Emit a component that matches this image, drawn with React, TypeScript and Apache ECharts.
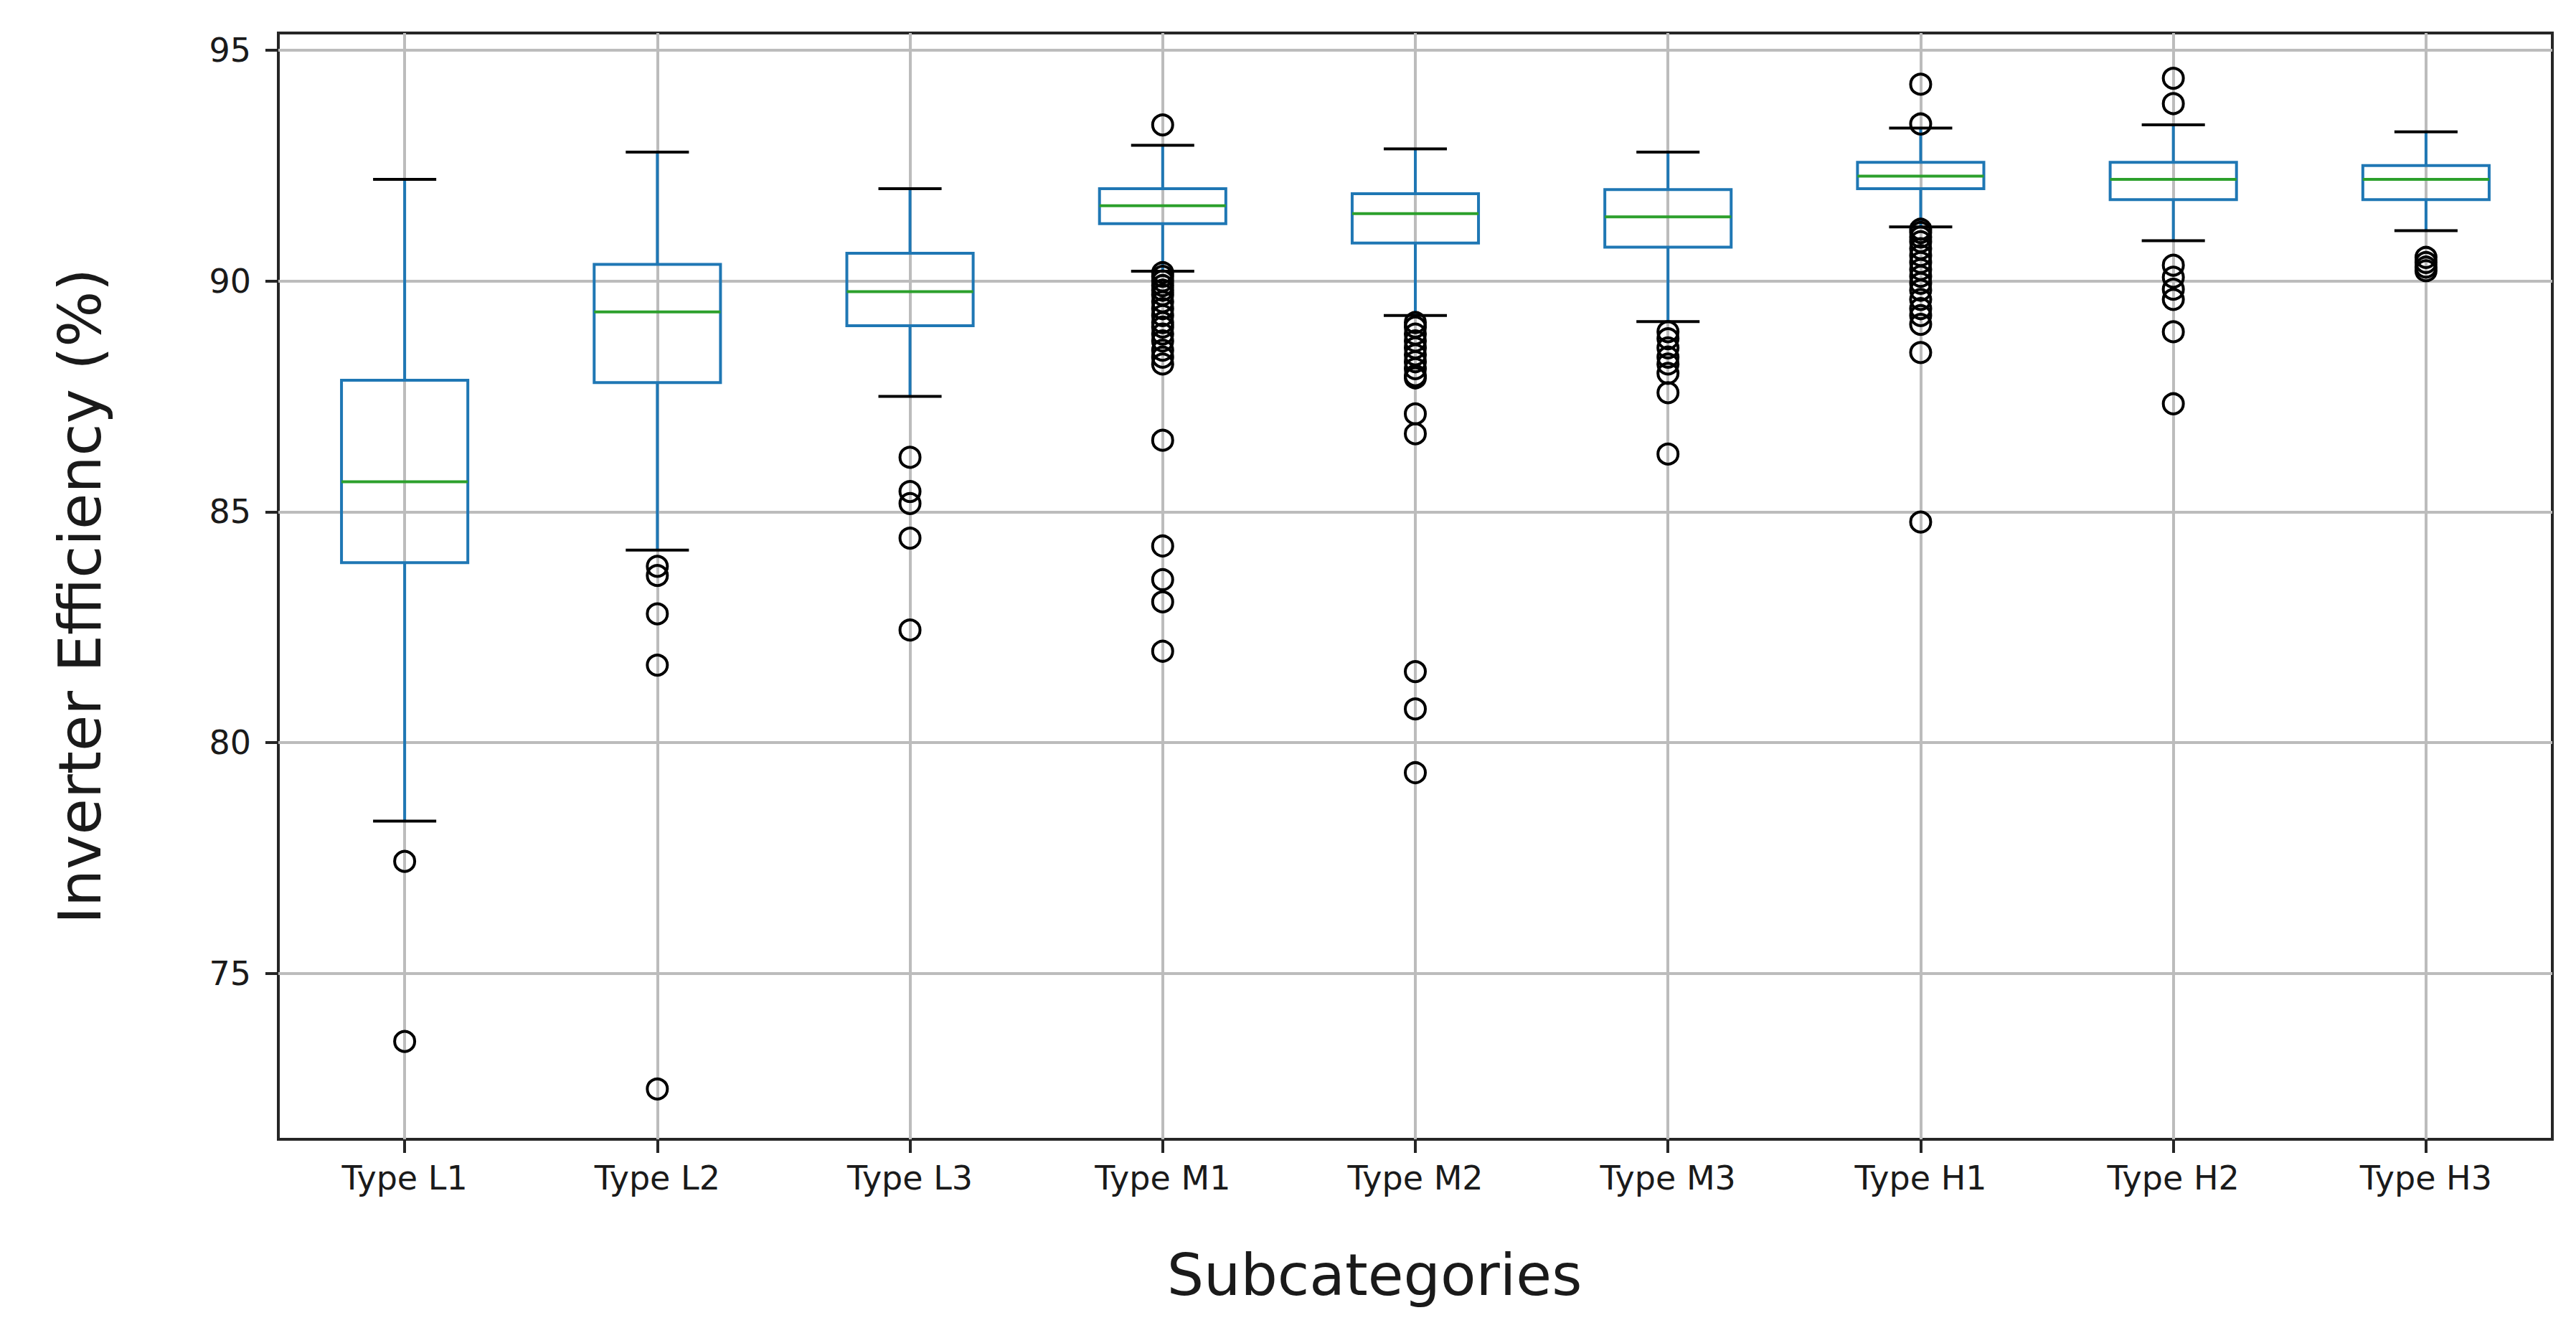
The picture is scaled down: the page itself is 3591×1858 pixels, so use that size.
import React, { useEffect, useRef } from 'react';
import * as echarts from 'echarts';

const categories = ['Type L1', 'Type L2', 'Type L3', 'Type M1', 'Type M2', 'Type M3', 'Type H1', 'Type H2', 'Type H3'];
const lowerWhisker = [78.3, 84.17, 87.5, 90.21, 89.25, 89.12, 91.17, 90.87, 91.09];
const q1 = [83.9, 87.8, 89.03, 91.24, 90.82, 90.73, 92.0, 91.76, 91.76];
const median = [85.65, 89.33, 89.77, 91.63, 91.46, 91.39, 92.27, 92.2, 92.2];
const q3 = [87.85, 90.36, 90.6, 92.0, 91.89, 91.98, 92.57, 92.57, 92.5];
const upperWhisker = [92.2, 92.79, 92.0, 92.94, 92.86, 92.79, 93.31, 93.38, 93.23];
const outliers = [
  [77.43, 73.53],
  [83.82, 83.62, 82.79, 81.68, 72.5],
  [86.18, 85.44, 85.18, 84.43, 82.44],
  [93.38, 90.18, 90.1, 90.0, 89.9, 89.8, 89.7, 89.55, 89.4, 89.25, 89.1, 89.0, 88.85, 88.7, 88.5, 88.35, 88.2, 86.55, 84.26, 83.53, 83.05, 81.98],
  [89.1, 89.0, 88.85, 88.7, 88.55, 88.4, 88.25, 88.1, 87.95, 87.9, 87.12, 86.69, 81.54, 80.73, 79.35],
  [88.9, 88.75, 88.55, 88.35, 88.2, 88.0, 87.58, 86.25],
  [94.26, 93.4, 91.12, 91.05, 90.95, 90.85, 90.7, 90.55, 90.4, 90.25, 90.1, 89.95, 89.8, 89.6, 89.4, 89.25, 89.06, 88.45, 84.78],
  [94.39, 93.84, 90.34, 90.08, 89.82, 89.6, 88.9, 87.34],
  [90.51, 90.4, 90.3, 90.22],
];
const yTicks = [75, 80, 85, 90, 95];
const yMin = 71.41;
const yMax = 95.37;

const BLUE = '#1f77b4';
const GREEN = '#2ca02c';
const DARK = '#262626';
const GRID = '#bcbcbc';
const TEXT = '#1a1a1a';

export default function App() {
  const ref = useRef<HTMLDivElement>(null);
  useEffect(() => {
    if (!ref.current) return;
    const chart = echarts.init(ref.current, undefined, { renderer: 'svg' });
    const boxData = categories.map((_, i) => [i, lowerWhisker[i], q1[i], median[i], q3[i], upperWhisker[i]]);
    const outlierData: number[][] = [];
    outliers.forEach((arr, i) => arr.forEach((v) => outlierData.push([i, v])));
    const option: any = {
      animation: false,
      backgroundColor: '#ffffff',
      textStyle: { fontFamily: 'DejaVu Sans' },
      grid: {
        left: 388, right: 33, top: 46, bottom: 270,
        show: true, borderColor: DARK, borderWidth: 4, backgroundColor: 'transparent',
      },
      xAxis: {
        type: 'category',
        data: categories,
        boundaryGap: true,
        name: 'Subcategories',
        nameLocation: 'middle',
        nameGap: 148,
        nameTextStyle: { fontSize: 81, color: TEXT, fontFamily: 'DejaVu Sans', padding: [0, 114, 0, 0] },
        axisLine: { show: false },
        axisTick: { show: true, alignWithLabel: true, length: 19, lineStyle: { color: DARK, width: 4 } },
        axisLabel: { fontSize: 46, color: TEXT, margin: 31, interval: 0, fontFamily: 'DejaVu Sans' },
        splitLine: { show: true, alignWithLabel: true, interval: 0, lineStyle: { color: GRID, width: 4 } },
      },
      yAxis: {
        type: 'value',
        min: yMin,
        max: yMax,
        name: 'Inverter Efficiency (%)',
        nameLocation: 'middle',
        nameGap: 236,
        nameTextStyle: { fontSize: 82, color: TEXT, fontFamily: 'DejaVu Sans', padding: [0, 28, 0, 0] },
        axisLine: { show: false },
        axisTick: { show: true, length: 18, customValues: yTicks, lineStyle: { color: DARK, width: 4 } },
        axisLabel: { customValues: yTicks, fontSize: 46, color: TEXT, margin: 38, fontFamily: 'DejaVu Sans' },
        splitLine: { show: true, lineStyle: { color: GRID, width: 4 } },
      },
      series: [
        {
          type: 'custom',
          name: 'box',
          data: boxData,
          encode: { x: 0, y: [1, 2, 3, 4, 5] },
          z: 2,
          renderItem: (params: any, api: any) => {
            const idx = api.value(0);
            const band = api.size([1, 0])[0];
            const half = band * 0.25;
            const capHalf = band * 0.125;
            const pLw = api.coord([idx, api.value(1)]);
            const pQ1 = api.coord([idx, api.value(2)]);
            const pMed = api.coord([idx, api.value(3)]);
            const pQ3 = api.coord([idx, api.value(4)]);
            const pUw = api.coord([idx, api.value(5)]);
            const x = pMed[0];
            const blue = { stroke: BLUE, lineWidth: 4, fill: null };
            return {
              type: 'group',
              children: [
                { type: 'line', shape: { x1: x, y1: pQ1[1], x2: x, y2: pLw[1] }, style: blue },
                { type: 'line', shape: { x1: x, y1: pQ3[1], x2: x, y2: pUw[1] }, style: blue },
                { type: 'line', shape: { x1: x - capHalf, y1: pLw[1], x2: x + capHalf, y2: pLw[1] }, style: { stroke: '#000', lineWidth: 4 } },
                { type: 'line', shape: { x1: x - capHalf, y1: pUw[1], x2: x + capHalf, y2: pUw[1] }, style: { stroke: '#000', lineWidth: 4 } },
                { type: 'rect', shape: { x: x - half, y: pQ3[1], width: half * 2, height: pQ1[1] - pQ3[1] }, style: { stroke: BLUE, lineWidth: 4, fill: 'none' } },
                { type: 'line', shape: { x1: x - half, y1: pMed[1], x2: x + half, y2: pMed[1] }, style: { stroke: GREEN, lineWidth: 4 } },
              ],
            };
          },
        },
        {
          type: 'scatter',
          name: 'outliers',
          data: outlierData,
          symbol: 'circle',
          symbolSize: 28,
          z: 3,
          itemStyle: { color: 'rgba(0,0,0,0)', borderColor: '#000', borderWidth: 4, opacity: 1 },
          emphasis: { disabled: true },
        },
      ],
    };
    chart.setOption(option);
    return () => chart.dispose();
  }, []);
  return <div ref={ref} style={{ position: 'fixed', left: 0, top: 0, width: 3591, height: 1858, background: '#fff' }} />;
}
